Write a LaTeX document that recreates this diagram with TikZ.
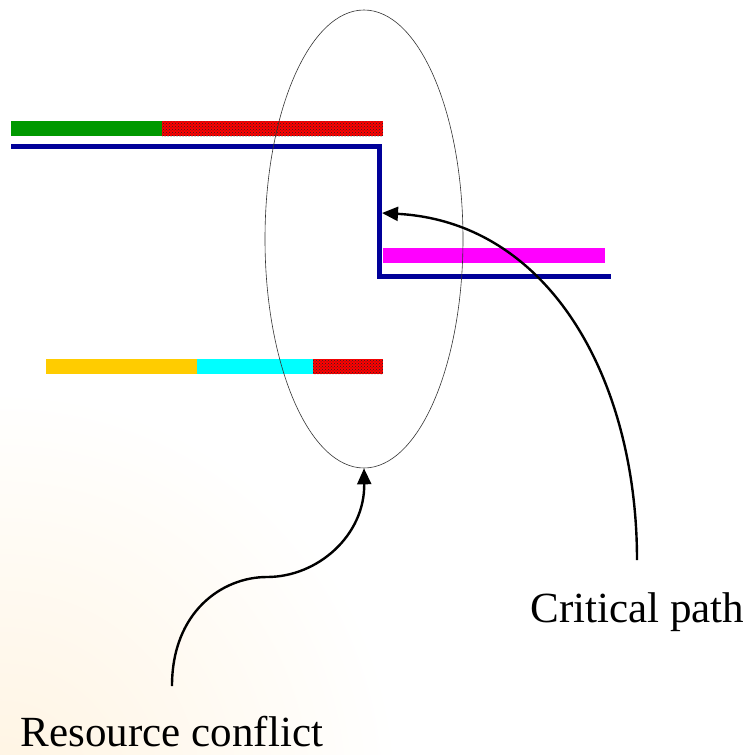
\documentclass[tikz,border=0pt]{standalone}
\usepackage{fontspec}
\setmainfont{Liberation Serif}
\usepackage{xcolor}
\usepackage{tikz}
\usetikzlibrary{shapes,arrows,positioning,calc,patterns,arrows.meta}

\definecolor{barGreen}{RGB}{0,153,0}
\definecolor{barRed}{RGB}{255,0,0}
\definecolor{barMagenta}{RGB}{255,0,255}
\definecolor{barYellow}{RGB}{255,204,0}
\definecolor{barCyan}{RGB}{0,255,255}
\definecolor{pathBlue}{RGB}{0,0,153}
\definecolor{bgWarm}{RGB}{255,244,226}

\begin{document}
\begin{tikzpicture}[x=1pt, y=-1pt,
    bar/.style={draw=none},
    busy/.style={fill=barRed, postaction={pattern=crosshatch dots, pattern color=black!85}},
    crit/.style={draw=pathBlue, line width=5pt, line join=miter},
    note/.style={font=\fontsize{43}{50}\selectfont, inner sep=0pt, anchor=base},
    callout/.style={draw=black, line width=2.4pt, -{Triangle[length=16pt,width=14pt]}}]
    \useasboundingbox (0,0) rectangle (749,755);
    \fill[white] (0,0) rectangle (749,755);
    \begin{scope}
        \clip (0,0) rectangle (749,755);
        \shade[inner color=bgWarm, outer color=white] (0,790) circle (400);
    \end{scope}

    % Task bars
    \foreach \xa/\xb/\y/\col in {11/162/121/barGreen, 383/605/248/barMagenta, 46/197/359/barYellow, 197/313/359/barCyan}
        \fill[bar, \col] (\xa,\y) rectangle (\xb,\y+15);
    \foreach \xa/\xb/\y in {162/383/121, 313/383/359}
        \fill[bar, busy] (\xa,\y) rectangle (\xb,\y+15);

    % Critical path line
    \coordinate (b1) at (11,146.5);
    \coordinate (b2) at (379,146.5);
    \coordinate (b3) at (379,276);
    \coordinate (b4) at (611,276);
    \draw[crit] (b1) -- (b2) -- (b3) -- (b4);

    % Conflict region
    \node[ellipse, draw=black!80, line width=0.6pt, inner sep=0pt,
          minimum width=198pt, minimum height=458pt] (conflict) at (364,239) {};

    % Labels
    \node[note] (critLabel) at (637.5,622) {Critical path};
    \node[note] (conflictLabel) at (172,746) {Resource conflict};
    \coordinate (critTail) at (637,560);
    \coordinate (critTip) at (382,213);
    \coordinate (conflictTail) at (172,686);

    \draw[callout] (critTail) .. controls (637,380) and (550,222) .. (critTip);
    \draw[callout] (conflictTail) .. controls (172,612) and (222,577) .. (267,577)
        .. controls (318,577) and (365,535) .. (conflict.south);
\end{tikzpicture}
\end{document}
